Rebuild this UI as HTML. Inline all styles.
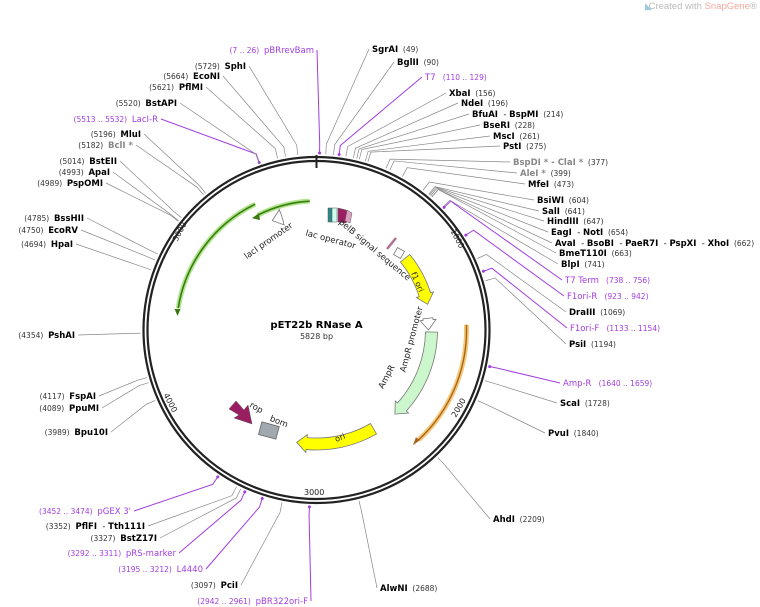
<!DOCTYPE html>
<html><head><meta charset="utf-8"><style>
html,body{margin:0;padding:0;background:#fff;width:760px;height:607px;overflow:hidden}
svg{display:block;font-family:"DejaVu Sans","Liberation Sans",sans-serif}
text,tspan{white-space:pre}
.b{font-weight:bold;font-size:8.5px;fill:#000}
.n{font-size:7.5px;fill:#333}
.g{font-weight:bold;font-size:8.5px;fill:#888}
.gn{font-size:7.5px;fill:#888}
.p{font-size:8.5px;fill:#a23de0}
.pn{font-size:7.5px;fill:#a23de0}
.f{font-size:8.5px;fill:#222}
</style></head><body>
<svg id="s" width="760" height="607" viewBox="0 0 760 607" xmlns="http://www.w3.org/2000/svg">
<text x="757" y="9" text-anchor="end" font-size="9.5" font-family="Liberation Sans, sans-serif" fill="#bbb">Created with <tspan fill="#f5a8a0">SnapGene</tspan>®</text>
<text x="645" y="9" font-size="9" fill="#9cd">◣</text>
<g id="lines"></g>
<circle cx="316.5" cy="330" r="173" fill="none" stroke="#222" stroke-width="2.2"/>
<circle cx="316.5" cy="330" r="169" fill="none" stroke="#222" stroke-width="2.2"/>
<line x1="316.5" y1="155" x2="316.5" y2="168" stroke="#222" stroke-width="2"/>
<g id="feat"></g>
<g id="lab"></g>
<text x="316.5" y="328" text-anchor="middle" font-weight="bold" font-size="10">pET22b RNase A</text>
<text x="316.5" y="339" text-anchor="middle" font-size="8" fill="#333">5828 bp</text>
</svg>
<script>
var cx=316.5,cy=330,N=5828,NS="http://www.w3.org/2000/svg";
function pt(a,r){var t=a*Math.PI/180;return [cx+r*Math.sin(t),cy-r*Math.cos(t)];}
function ang(bp){return bp/N*360;}
function el(tag,at,par,txt){var e=document.createElementNS(NS,tag);for(var k in at)e.setAttribute(k,at[k]);if(txt!==undefined)e.textContent=txt;document.getElementById(par).appendChild(e);return e;}
var S="  - ";
var L=[
[[["SgrAI","b"],["  (49)","n"]],372,52,"s",49,"#888"],
[[["BglII","b"],["  (90)","n"]],397,65,"s",90,"#888"],
[[["T7","p"],["   (110 .. 129)","pn"]],425,80,"s",119,"#a23de0"],
[[["XbaI","b"],["  (156)","n"]],449,96,"s",156,"#888"],
[[["NdeI","b"],["  (196)","n"]],461,106,"s",196,"#888"],
[[["BfuAI","b"],[S,"f"],["BspMI","b"],["  (214)","n"]],472,117,"s",214,"#888"],
[[["BseRI","b"],["  (228)","n"]],483,128,"s",228,"#888"],
[[["MscI","b"],["  (261)","n"]],493,139,"s",261,"#888"],
[[["PstI","b"],["  (275)","n"]],503,149,"s",275,"#888"],
[[["BspDI * - ClaI *","g"],["  (377)","n"]],513,165,"s",377,"#888"],
[[["AleI *","g"],["  (399)","n"]],520,176,"s",399,"#888"],
[[["MfeI","b"],["  (473)","n"]],528,187,"s",473,"#888"],
[[["BsiWI","b"],["  (604)","n"]],537,203,"s",604,"#888"],
[[["SalI","b"],["  (641)","n"]],542,214,"s",641,"#888"],
[[["HindIII","b"],["  (647)","n"]],547,224,"s",647,"#888"],
[[["EagI","b"],[S,"f"],["NotI","b"],["  (654)","n"]],551,235,"s",654,"#888"],
[[["AvaI","b"],[S,"f"],["BsoBI","b"],[S,"f"],["PaeR7I","b"],[S,"f"],["PspXI","b"],[S,"f"],["XhoI","b"],["  (662)","n"]],555,246,"s",662,"#888"],
[[["BmeT110I","b"],["  (663)","n"]],559,256,"s",663,"#888"],
[[["BlpI","b"],["  (741)","n"]],561,267,"s",741,"#888"],
[[["T7 Term","p"],["   (738 .. 756)","pn"]],565,283,"s",747,"#a23de0"],
[[["F1ori-R","p"],["   (923 .. 942)","pn"]],567,299,"s",932,"#a23de0"],
[[["DraIII","b"],["  (1069)","n"]],569,315,"s",1069,"#888"],
[[["F1ori-F","p"],["   (1133 .. 1154)","pn"]],570,331,"s",1143,"#a23de0"],
[[["PsiI","b"],["  (1194)","n"]],569,347,"s",1194,"#888"],
[[["Amp-R","p"],["   (1640 .. 1659)","pn"]],563,386,"s",1650,"#a23de0"],
[[["ScaI","b"],["  (1728)","n"]],560,406,"s",1728,"#888"],
[[["PvuI","b"],["  (1840)","n"]],548,436,"s",1840,"#888"],
[[["AhdI","b"],["  (2209)","n"]],493,522,"s",2209,"#888"],
[[["AlwNI","b"],["  (2688)","n"]],380,591,"s",2688,"#888"],
[[["(2942 .. 2961)  ","pn"],["pBR322ori-F","p"]],308,604,"e",2951,"#a23de0"],
[[["(3097)  ","n"],["PciI","b"]],238,588,"e",3097,"#888"],
[[["(3195 .. 3212)  ","pn"],["L4440","p"]],203,572,"e",3203,"#a23de0"],
[[["(3292 .. 3311)  ","pn"],["pRS-marker","p"]],176,556,"e",3301,"#a23de0"],
[[["(3327)  ","n"],["BstZ17I","b"]],157,541,"e",3327,"#888"],
[[["(3352)  ","n"],["PflFI","b"],[S,"f"],["Tth111I","b"]],145,529,"e",3352,"#888"],
[[["(3452 .. 3474)  ","pn"],["pGEX 3'","p"]],131,514,"e",3463,"#a23de0"],
[[["(3989)  ","n"],["Bpu10I","b"]],108,435,"e",3989,"#888"],
[[["(4089)  ","n"],["PpuMI","b"]],99,411,"e",4089,"#888"],
[[["(4117)  ","n"],["FspAI","b"]],96,399,"e",4117,"#888"],
[[["(4354)  ","n"],["PshAI","b"]],75,338,"e",4354,"#888"],
[[["(4694)  ","n"],["HpaI","b"]],73,247,"e",4694,"#888"],
[[["(4750)  ","n"],["EcoRV","b"]],78,233,"e",4750,"#888"],
[[["(4785)  ","n"],["BssHII","b"]],84,221,"e",4785,"#888"],
[[["(4989)  ","n"],["PspOMI","b"]],103,186,"e",4989,"#888"],
[[["(4993)  ","n"],["ApaI","b"]],110,175,"e",4993,"#888"],
[[["(5014)  ","n"],["BstEII","b"]],117,164,"e",5014,"#888"],
[[["(5182)  ","n"],["BclI *","g"]],133,148,"e",5182,"#888"],
[[["(5196)  ","n"],["MluI","b"]],141,137,"e",5196,"#888"],
[[["(5513 .. 5532)  ","pn"],["LacI-R","p"]],158,122,"e",5522,"#a23de0"],
[[["(5520)  ","n"],["BstAPI","b"]],177,106,"e",5520,"#888"],
[[["(5621)  ","n"],["PflMI","b"]],203,90,"e",5621,"#888"],
[[["(5664)  ","n"],["EcoNI","b"]],220,79,"e",5664,"#888"],
[[["(5729)  ","n"],["SphI","b"]],246,69,"e",5729,"#888"],
[[["(7 .. 26)  ","pn"],["pBRrevBam","p"]],314,53,"e",16,"#a23de0"]
];
L.forEach(function(l){
  var t=el("text",{x:l[1],y:l[2],"text-anchor":l[3]=="s"?"start":"end"},"lab");
  l[0].forEach(function(p){var s=document.createElementNS(NS,"tspan");s.setAttribute("class",p[1]);s.textContent=p[0];t.appendChild(s);});
  var a=ang(l[4]),p1=pt(a,176),p2=pt(a,186);
  var lx=l[3]=="s"?l[1]-3:l[1]+3, ly=l[2]-3;
  el("polyline",{points:p1.join(",")+" "+p2.join(",")+" "+lx+","+ly,fill:"none",stroke:l[5],"stroke-width":l[5]=="#888"?0.7:1},"lines");
  if(l[5]=="#a23de0"){var q=pt(a,177);el("circle",{cx:q[0],cy:q[1],r:1.5,fill:"#a23de0"},"lines");}
});
function arcPath(a1,a2,r){var p=pt(a1,r),q=pt(a2,r);var large=Math.abs(a2-a1)>180?1:0;var sw=a2>a1?1:0;return "M"+p+" A"+r+","+r+" 0 "+large+","+sw+" "+q;}
function arrowArc(a1,a2,r,w,fill,stroke){
  var dir=a2>a1?1:-1, head=10/r*180/Math.PI, ab=a2-dir*head;
  var o1=pt(a1,r+w/2),o2=pt(ab,r+w/2),h1=pt(ab,r+w/2+3),tip=pt(a2,r),h2=pt(ab,r-w/2-3),i2=pt(ab,r-w/2),i1=pt(a1,r-w/2);
  var sw=dir>0?1:0,sw2=dir>0?0:1;
  var d="M"+o1+" A"+(r+w/2)+","+(r+w/2)+" 0 0,"+sw+" "+o2+" L"+h1+" L"+tip+" L"+h2+" L"+i2+" A"+(r-w/2)+","+(r-w/2)+" 0 0,"+sw2+" "+i1+" Z";
  el("path",{d:d,fill:fill,stroke:stroke,"stroke-width":0.8},"feat");
}
el("path",{d:arcPath(334,279,140),fill:"none",stroke:"#9be070","stroke-width":5,opacity:0.8},"feat");
el("path",{d:arcPath(334,279,140),fill:"none",stroke:"#3a7a10","stroke-width":1.6},"feat");
var t=pt(277,140);el("path",{d:"M"+(t[0]-3)+","+(t[1]-4)+" L"+t[0]+","+(t[1]+3)+" L"+(t[0]+3)+","+(t[1]-4)+"Z",fill:"#3a7a10"},"feat");
el("path",{d:arcPath(357,333,129),fill:"none",stroke:"#9be070","stroke-width":5,opacity:0.8},"feat");
el("path",{d:arcPath(357,333,129),fill:"none",stroke:"#3a7a10","stroke-width":1.6},"feat");
var u=pt(331,129);el("path",{d:"M"+(u[0]+5)+","+(u[1]-4)+" L"+(u[0]-2)+","+(u[1]+1)+" L"+(u[0]+6)+","+(u[1]+3)+"Z",fill:"#3a7a10"},"feat");
el("path",{d:arcPath(88,137,150),fill:"none",stroke:"#f5c878","stroke-width":5},"feat");
el("path",{d:arcPath(88,137,150),fill:"none",stroke:"#a8641a","stroke-width":1.4},"feat");
var o=pt(139,150);el("path",{d:"M"+(o[0]+5)+","+(o[1]-3)+" L"+(o[0]-2)+","+(o[1]+2)+" L"+(o[0]+1)+","+(o[1]-6)+"Z",fill:"#a8641a"},"feat");
arrowArc(51,77,114,12,"#ffff00","#777");
arrowArc(91,137,115,12,"#ccf7cc","#777");
arrowArc(150,190,114,12,"#ffff00","#777");
arrowArc(84,90,112,10,"#fff","#777");
arrowArc(343,338,118,10,"#fff","#777");
el("rect",{x:328,y:208,width:4,height:14,fill:"#2a8a8a",stroke:"#555","stroke-width":0.5},"feat");
el("rect",{x:332,y:208,width:5,height:14,fill:"#cfe",stroke:"#555","stroke-width":0.5},"feat");
el("path",{d:"M338,208 L346,210 L350,216 L346,223 L338,222Z",fill:"#9b1e63",stroke:"#555","stroke-width":0.5},"feat");
el("path",{d:"M347,210 L352,213 L350,223 L345,221Z",fill:"#d9a0c0",stroke:"#555","stroke-width":0.5},"feat");
el("line",{x1:387,y1:249,x2:396,y2:238,stroke:"#b07090","stroke-width":2.5},"feat");
el("rect",{x:395,y:249,width:8,height:8,fill:"#fff",stroke:"#777","stroke-width":0.8,transform:"rotate(30 399 253)"},"feat");
el("rect",{x:260,y:424,width:18,height:13,fill:"#a0a8b0",stroke:"#666","stroke-width":0.8,transform:"rotate(15 269 430)"},"feat");
el("path",{d:"M229,409 L236,401 L244,410 L248,405 L252,424 L234,418 L239,415Z",fill:"#9b1e63",stroke:"#555","stroke-width":0.5},"feat");
function rt(x,y,r,s,sz){el("text",{x:x,y:y,transform:"rotate("+r+" "+x+" "+y+")","text-anchor":"middle","font-size":sz||8.5,fill:"#222"},"feat",s);}
rt(270,243,-35,"lacI promoter");
rt(330,242,15,"lac operator");
rt(373,252,40,"pelB signal sequence");
rt(415,283,67,"f1 ori",8);
rt(414,340,-75,"AmpR promoter");
rt(389,378,-62,"AmpR");
rt(255,410,30,"rop");
rt(278,424,22,"bom");
rt(341,440,-22,"ori",8);
rt(455,240,62,"1000",8);
rt(461,409,-60,"2000",8);
rt(182,233,-62,"5000",8);
rt(168,404,62,"4000",8);
el("text",{x:304,y:495,"font-size":8,fill:"#222"},"feat","3000");
</script>
</body></html>
